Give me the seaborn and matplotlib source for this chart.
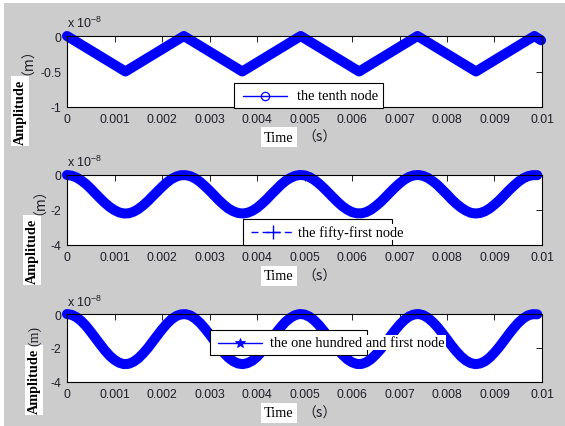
import matplotlib
matplotlib.use("Agg")
import matplotlib.pyplot as plt
from matplotlib.lines import Line2D
from matplotlib.patches import Rectangle
import pandas as pd
import seaborn as sns

# ---- data (amplitudes in units of 1e-8 m, time in s) ----
t_tenth = [0.0, 0.00123, 0.00246, 0.00369, 0.00492, 0.00615, 0.00738,
           0.00861, 0.00984, 0.00998]
amp_tenth = [0.0, -0.5, 0.0, -0.5, 0.0, -0.5, 0.0, -0.5, 0.0, -0.06]

t_grid = [0.0000, 0.0001, 0.0002, 0.0003, 0.0004, 0.0005, 0.0006, 0.0007, 0.0008, 0.0009,
          0.0010, 0.0011, 0.0012, 0.0013, 0.0014, 0.0015, 0.0016, 0.0017, 0.0018, 0.0019,
          0.0020, 0.0021, 0.0022, 0.0023, 0.0024, 0.0025, 0.0026, 0.0027, 0.0028, 0.0029,
          0.0030, 0.0031, 0.0032, 0.0033, 0.0034, 0.0035, 0.0036, 0.0037, 0.0038, 0.0039,
          0.0040, 0.0041, 0.0042, 0.0043, 0.0044, 0.0045, 0.0046, 0.0047, 0.0048, 0.0049,
          0.0050, 0.0051, 0.0052, 0.0053, 0.0054, 0.0055, 0.0056, 0.0057, 0.0058, 0.0059,
          0.0060, 0.0061, 0.0062, 0.0063, 0.0064, 0.0065, 0.0066, 0.0067, 0.0068, 0.0069,
          0.0070, 0.0071, 0.0072, 0.0073, 0.0074, 0.0075, 0.0076, 0.0077, 0.0078, 0.0079,
          0.0080, 0.0081, 0.0082, 0.0083, 0.0084, 0.0085, 0.0086, 0.0087, 0.0088, 0.0089,
          0.0090, 0.0091, 0.0092, 0.0093, 0.0094, 0.0095, 0.0096, 0.0097, 0.0098, 0.0099]

amp_fifty_first = [
    0.00, -0.04, -0.14, -0.31, -0.52, -0.78, -1.06, -1.34, -1.60, -1.83,
    -2.01, -2.14, -2.20, -2.19, -2.10, -1.95, -1.74, -1.50, -1.22, -0.95,
    -0.68, -0.43, -0.23, -0.09, -0.01, -0.01, -0.07, -0.20, -0.39, -0.63,
    -0.89, -1.17, -1.45, -1.70, -1.92, -2.07, -2.17, -2.20, -2.16, -2.05,
    -1.88, -1.65, -1.40, -1.11, -0.84, -0.57, -0.34, -0.17, -0.05, 0.00,
    -0.02, -0.11, -0.27, -0.48, -0.73, -1.00, -1.28, -1.55, -1.79, -1.98,
    -2.12, -2.19, -2.19, -2.12, -1.98, -1.78, -1.55, -1.28, -1.00, -0.73,
    -0.48, -0.27, -0.11, -0.02, 0.00, -0.05, -0.17, -0.35, -0.57, -0.84,
    -1.11, -1.40, -1.65, -1.87, -2.04, -2.16, -2.20, -2.17, -2.07, -1.91,
    -1.69, -1.45, -1.17, -0.89, -0.63, -0.39, -0.20, -0.07, -0.01, -0.01]

amp_hundred_first = [
    0.00, -0.05, -0.19, -0.41, -0.70, -1.05, -1.42, -1.79, -2.15, -2.46,
    -2.70, -2.87, -2.95, -2.93, -2.81, -2.61, -2.33, -2.01, -1.64, -1.27,
    -0.91, -0.58, -0.31, -0.12, -0.02, -0.01, -0.09, -0.27, -0.52, -0.84,
    -1.19, -1.57, -1.94, -2.28, -2.57, -2.78, -2.91, -2.95, -2.89, -2.75,
    -2.52, -2.21, -1.87, -1.49, -1.12, -0.77, -0.46, -0.23, -0.07, 0.00,
    -0.03, -0.15, -0.36, -0.64, -0.98, -1.34, -1.72, -2.08, -2.40, -2.66,
    -2.84, -2.94, -2.94, -2.84, -2.66, -2.39, -2.08, -1.72, -1.34, -0.98,
    -0.64, -0.36, -0.15, -0.03, 0.00, -0.07, -0.23, -0.47, -0.77, -1.12,
    -1.49, -1.87, -2.21, -2.51, -2.74, -2.89, -2.95, -2.91, -2.78, -2.56,
    -2.27, -1.94, -1.57, -1.19, -0.84, -0.52, -0.27, -0.09, -0.01, -0.02]

x_ticks = [0, 0.001, 0.002, 0.003, 0.004, 0.005, 0.006, 0.007, 0.008, 0.009, 0.01]
x_tick_labels = ["0", "0.001", "0.002", "0.003", "0.004", "0.005", "0.006",
                 "0.007", "0.008", "0.009", "0.01"]
y_ticks_top = [0, -0.5, -1]
y_tick_labels_top = ["0", "-0.5", "-1"]
y_ticks_low = [0, -2, -4]
y_tick_labels_low = ["0", "-2", "-4"]

legend_labels = ["the tenth node", "the fifty-first node",
                 "the one hundred and first node"]

# ---- style ----
sns.set_theme(style="white")
plt.rcParams["font.family"] = ["Liberation Sans", "DejaVu Sans"]
plt.rcParams["mathtext.fontset"] = "custom"
plt.rcParams["mathtext.rm"] = "Liberation Sans"
plt.rcParams["mathtext.it"] = "Liberation Sans"
plt.rcParams["mathtext.default"] = "regular"

W, H = 565, 427
BLUE = "#0000ff"
GRAY = "#cccccc"
TXT = "#1e1e28"


def fx(px):
    return px / W


def fy(py):
    return 1 - py / H


fig = plt.figure(figsize=(W / 100, H / 100), dpi=100, facecolor="white")
fig.patches.append(Rectangle((fx(4), 0), 1 - fx(4), fy(4), transform=fig.transFigure,
                             facecolor=GRAY, edgecolor="none", zorder=-10))

panels = [
    dict(box=(67, 37, 542, 108), t=t_tenth, y=amp_tenth, ylim=(-1, 0),
         yt=y_ticks_top, ytl=y_tick_labels_top,
         handle=dict(ls="-"), mk=dict(marker="o", ms=6, mfc="none", mew=0.9),
         leg_box=(234, 84, 383, 109), leg_line=(243, 287), leg_mk=265, leg_y=96.5,
         leg_text=297,
         ylab_x=20, amp_c=112, unit_c=55, unit="（m）", time_y=138),
    dict(box=(67, 176, 542, 246), t=t_grid, y=amp_fifty_first, ylim=(-4, 0),
         yt=y_ticks_low, ytl=y_tick_labels_low,
         handle=dict(ls=(0, (5, 3))), mk=dict(marker="+", ms=10, mew=1.0),
         leg_box=(243, 220, 392, 246), leg_line=(251, 293), leg_mk=273, leg_y=233,
         leg_text=298,
         ylab_x=32, amp_c=251, unit_c=195, unit="（m）", time_y=277),
    dict(box=(67, 315, 542, 383), t=t_grid, y=amp_hundred_first, ylim=(-4, 0),
         yt=y_ticks_low, ytl=y_tick_labels_low,
         handle=dict(ls="-"), mk=dict(marker="*", ms=7, mew=0.6),
         leg_box=(210, 331, 367, 356), leg_line=(218, 262), leg_mk=240, leg_y=343.5,
         leg_text=270,
         ylab_x=34, amp_c=381, unit_c=336, unit="(m)", time_y=414),
]

serif = ["Liberation Serif", "DejaVu Serif"]
cjk = ["Noto Sans CJK SC", "DejaVu Sans"]

for p, label in zip(panels, legend_labels):
    l, t, r, b = p["box"]
    ax = fig.add_axes([fx(l), fy(b), fx(r) - fx(l), fy(t) - fy(b)])
    ax.set_facecolor("white")
    df = pd.DataFrame({"time": p["t"], "amp": p["y"]})
    sns.lineplot(data=df, x="time", y="amp", ax=ax, color=BLUE, lw=7.2,
                 estimator=None, sort=False, clip_on=False,
                 solid_joinstyle="round", solid_capstyle="round")
    ax.set_xlim(0, 0.01)
    ax.set_ylim(*p["ylim"])
    ax.set_xticks(x_ticks)
    ax.set_xticklabels(x_tick_labels)
    ax.set_yticks(p["yt"])
    ax.set_yticklabels(p["ytl"])
    ax.set_xlabel("")
    ax.set_ylabel("")
    ax.tick_params(direction="in", length=4, width=0.6, top=True, right=True,
                   labelsize=8.8, labelcolor=TXT, color="black", pad=4)
    for s in ax.spines.values():
        s.set_visible(True)
        s.set_color("black")
        s.set_linewidth(0.8)
    ax.text(0, 1.08, r"x 10$^{-8}$", transform=ax.transAxes, fontsize=9,
            color=TXT, ha="left", va="bottom")

    # legend: framed box, sample line with marker, then the label
    bl, bt, br, bb = p["leg_box"]
    fig.add_artist(Rectangle((fx(bl), fy(bb)), fx(br) - fx(bl), fy(bt) - fy(bb),
                             transform=fig.transFigure, facecolor="white",
                             edgecolor="black", lw=0.8, zorder=5))
    x0, x1 = p["leg_line"]
    fig.add_artist(Line2D([fx(x0), fx(x1)], [fy(p["leg_y"])] * 2,
                          transform=fig.transFigure, color=BLUE, lw=1.0,
                          zorder=6, **p["handle"]))
    fig.add_artist(Line2D([fx(p["leg_mk"])], [fy(p["leg_y"])],
                          transform=fig.transFigure, color=BLUE, ls="none",
                          zorder=7, **p["mk"]))
    fig.text(fx(p["leg_text"]), fy(p["leg_y"]), label, ha="left", va="center",
             family=serif, size=10.4, color="black", zorder=8,
             bbox=dict(boxstyle="square,pad=0.1", fc="white", ec="none"))

    # y label: boxed word plus unit
    fig.text(fx(p["ylab_x"]), fy(p["amp_c"]), "Amplitude", rotation=90,
             ha="center", va="center", family=serif, weight="bold", size=10.3,
             color="black",
             bbox=dict(boxstyle="square,pad=0.2", fc="white", ec="none"))
    ufam = cjk if p["unit"].startswith("（") else serif
    fig.text(fx(p["ylab_x"] + 1), fy(p["unit_c"]), p["unit"], rotation=90,
             ha="center", va="center", family=ufam, size=10, color=TXT)

    # x label: boxed word plus unit
    fig.text(fx(279), fy(p["time_y"]), "Time", ha="center", va="center",
             family=serif, size=10.3, color="black",
             bbox=dict(boxstyle="square,pad=0.25", fc="white", ec="none"))
    fig.text(fx(319), fy(p["time_y"]), "（s）", ha="center", va="center",
             family=cjk, size=10, color=TXT)

fig.savefig("out.png", dpi=100, facecolor="white")
